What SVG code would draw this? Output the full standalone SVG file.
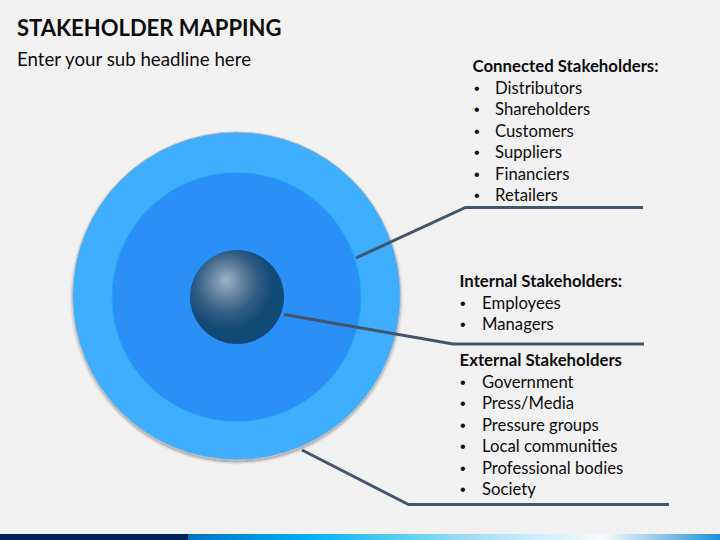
<svg xmlns="http://www.w3.org/2000/svg" width="720" height="540" viewBox="0 0 720 540">
<defs>
<style>
.title{font-family:"Lato","Liberation Sans",sans-serif;font-weight:bold;font-size:22px;fill:#0D0D0D}
.sub{font-family:"Lato","Liberation Sans",sans-serif;font-size:18.7px;fill:#0D0D0D}
.head{font-family:"Lato","Liberation Sans",sans-serif;font-weight:bold;font-size:16.8px;fill:#0D0D0D}
.item{font-family:"Lato","Liberation Sans",sans-serif;font-size:16.7px;fill:#0D0D0D}
.bul{font-family:"Liberation Sans",sans-serif;font-size:16px;fill:#0D0D0D}
.conn{fill:none;stroke:#44546A;stroke-width:3;stroke-linejoin:miter}
</style>
<linearGradient id="bar" x1="0" y1="0" x2="1" y2="0">
<stop offset="0" stop-color="#0070C0"/>
<stop offset="0.22" stop-color="#00B0F0"/>
<stop offset="0.55" stop-color="#A9E2F7"/>
<stop offset="0.78" stop-color="#F8FBFD"/>
<stop offset="1" stop-color="#1E90D8"/>
</linearGradient>
<radialGradient id="ball" cx="0.4" cy="0.38" r="0.6" fx="0.38" fy="0.32">
<stop offset="0" stop-color="#9DB4C6"/>
<stop offset="0.25" stop-color="#6A88A3"/>
<stop offset="0.55" stop-color="#2F5C84"/>
<stop offset="0.8" stop-color="#124A75"/>
<stop offset="1" stop-color="#114A76"/>
</radialGradient>
<filter id="sh" x="-10%" y="-10%" width="120%" height="120%">
<feGaussianBlur in="SourceAlpha" stdDeviation="1.5"/>
<feOffset dx="0" dy="1.5"/>
<feComponentTransfer><feFuncA type="linear" slope="0.35"/></feComponentTransfer>
<feMerge><feMergeNode/><feMergeNode in="SourceGraphic"/></feMerge>
</filter>
</defs>
<rect width="720" height="540" fill="#F2F2F2"/>
<g id="title">
<text class="title" x="17" y="36">STAKEHOLDER MAPPING</text>
<text class="sub" x="17" y="66">Enter your sub headline here</text>
</g>
<g id="outer-circle">
<circle cx="236.5" cy="296" r="164" fill="#40AEFF" stroke="#BDBDBD" stroke-width="1" filter="url(#sh)"/>
</g>
<g id="inner-circle">
<circle cx="236.5" cy="297" r="124.5" fill="#2A8FF7" stroke="#1AAAFF" stroke-width="1"/>
</g>
<g id="core">
<circle cx="237" cy="297" r="47" fill="url(#ball)"/>
</g>
<g id="connectors">
<polyline class="conn" points="356,258 465.5,207.5 643,207.5"/>
<polyline class="conn" points="284,314.5 453,344 644,344"/>
<polyline class="conn" points="302,450 408.5,504.5 669,504.5"/>
</g>
<g id="connected">
<text class="head" x="472.5" y="72">Connected Stakeholders:</text>
<g class="bul">
<text x="474" y="93.5">•</text><text x="474" y="115">•</text><text x="474" y="136.5">•</text>
<text x="474" y="158">•</text><text x="474" y="179.5">•</text><text x="474" y="201">•</text>
</g>
<g class="item">
<text x="495" y="93.5">Distributors</text>
<text x="495" y="115">Shareholders</text>
<text x="495" y="136.5">Customers</text>
<text x="495" y="158">Suppliers</text>
<text x="495" y="179.5">Financiers</text>
<text x="495" y="201">Retailers</text>
</g>
</g>
<g id="internal">
<text class="head" x="459.5" y="287">Internal Stakeholders:</text>
<g class="bul">
<text x="460" y="308.5">•</text><text x="460" y="330">•</text>
</g>
<g class="item">
<text x="482" y="308.5">Employees</text>
<text x="482" y="330">Managers</text>
</g>
</g>
<g id="external">
<text class="head" x="459.5" y="366">External Stakeholders</text>
<g class="bul">
<text x="460" y="387.5">•</text><text x="460" y="409">•</text><text x="460" y="430.5">•</text>
<text x="460" y="452">•</text><text x="460" y="473.5">•</text><text x="460" y="495">•</text>
</g>
<g class="item">
<text x="482" y="387.5">Government</text>
<text x="482" y="409">Press/Media</text>
<text x="482" y="430.5">Pressure groups</text>
<text x="482" y="452">Local communities</text>
<text x="482" y="473.5">Professional bodies</text>
<text x="482" y="495">Society</text>
</g>
</g>
<g id="footer-bar">
<rect x="0" y="534" width="188" height="6" fill="#002060"/>
<rect x="188" y="534" width="532" height="6" fill="url(#bar)"/>
</g>
</svg>
